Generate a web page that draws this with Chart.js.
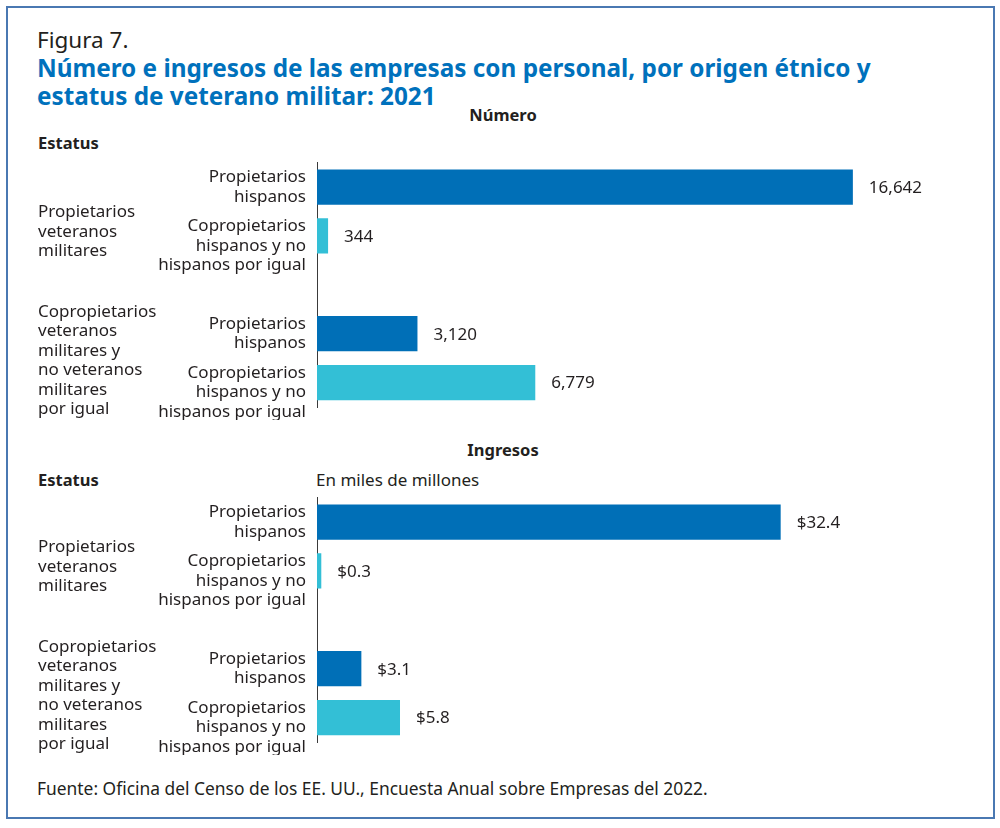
<!DOCTYPE html>
<html>
<head>
<meta charset="utf-8">
<script src="https://cdn.jsdelivr.net/npm/chart.js@4/dist/chart.umd.min.js"></script>
<style>
  body { margin: 0; background: #fff; font-family: "Noto Sans", sans-serif; color: #231f20; }
  #page { position: relative; width: 1000px; height: 828px; overflow: hidden; }
  #frame { position: absolute; left: 6px; top: 6px; width: 985px; height: 809px; border: 2px solid #4a78b2; }
  .txt { position: absolute; white-space: nowrap; }
  canvas { position: absolute; left: 0; }
</style>
</head>
<body>
<div id="page">
  <div id="frame"></div>
  <div class="txt" style="left:37px; top:27px; font-size:22.5px; line-height:26px;">Figura 7.</div>
  <div class="txt" style="left:37px; top:54px; font-size:24.3px; line-height:28px; font-weight:bold; color:#0071bc;">
    Número e ingresos de las empresas con personal, por origen étnico y<br>estatus de veterano militar: 2021
  </div>
  <div class="txt" style="left:403px; width:200px; text-align:center; top:105px; font-size:16.5px; line-height:20px; font-weight:bold;">Número</div>
  <div class="txt" style="left:38px; top:133px; font-size:16.5px; line-height:20px; font-weight:bold;">Estatus</div>

  <canvas id="chartNumero" width="1000" height="270" style="top:150px"></canvas>

  <div class="txt" style="left:403px; width:200px; text-align:center; top:440px; font-size:16.5px; line-height:20px; font-weight:bold;">Ingresos</div>
  <div class="txt" style="left:38px; top:470px; font-size:16.5px; line-height:20px; font-weight:bold;">Estatus</div>
  <div class="txt" style="left:316px; top:470px; font-size:17px; line-height:20px;">En miles de millones</div>

  <canvas id="chartIngresos" width="1000" height="270" style="top:485px"></canvas>

  <div class="txt" style="left:37px; top:778px; font-size:17.4px; line-height:20px;">Fuente: Oficina del Censo de los EE. UU., Encuesta Anual sobre Empresas del 2022.</div>
</div>

<script>
// categories (a blank slot separates the two status groups)
const owners = [
    ["Propietarios", "hispanos"],
    ["", "Copropietarios", "hispanos y no", "hispanos por igual"],
    "",
    ["Propietarios", "hispanos"],
    ["", "Copropietarios", "hispanos y no", "hispanos por igual"]
];

const statusGroups = [
    ["Propietarios", "veteranos", "militares"],
    ["Copropietarios", "veteranos", "militares y", "no veteranos", "militares", "por igual"]
];

// number of firms
const firmCount = [16642, 344, null, 3120, 6779];

// receipts, billions of dollars
const receipts = [32.4, 0.3, null, 3.1, 5.8];

const darkBlue = "#006fb7";
const lightBlue = "#33bfd6";
const barColors = [darkBlue, lightBlue, "rgba(0,0,0,0)", darkBlue, lightBlue];

const labelFont = "17px 'Noto Sans'";
const lineStep = 19.5;

// value at the end of each bar
const valueLabels = {
    id: "valueLabels",
    afterDatasetsDraw(chart, args, opts) {
        const ctx = chart.ctx;
        const meta = chart.getDatasetMeta(0);
        const data = chart.data.datasets[0].data;
        ctx.save();
        ctx.font = labelFont;
        ctx.fillStyle = "#231f20";
        ctx.textAlign = "left";
        ctx.textBaseline = "middle";
        meta.data.forEach((bar, i) => {
            if (data[i] == null) return;
            ctx.fillText(opts.format(data[i]), bar.x + 16, bar.y + 1);
        });
        ctx.restore();
    }
};

// status group labels on the far left
const groupLabels = {
    id: "groupLabels",
    afterDraw(chart) {
        const ctx = chart.ctx;
        const y = chart.scales.y;
        const anchors = [0.92, 3.55];
        ctx.save();
        ctx.font = labelFont;
        ctx.fillStyle = "#231f20";
        ctx.textAlign = "left";
        ctx.textBaseline = "middle";
        statusGroups.forEach((lines, g) => {
            const mid = y.getPixelForValue(anchors[g]);
            const top = mid - (lines.length - 1) * lineStep / 2;
            lines.forEach((line, k) => {
                ctx.fillText(line, 38, top + k * lineStep);
            });
        });
        ctx.restore();
    }
};

function makeChart(id, values, max, format) {

    const ctx = document.getElementById(id);

    return new Chart(ctx, {

        type: 'bar',

        data: {
            labels: owners,
            datasets: [{
                data: values,
                backgroundColor: barColors,
                barPercentage: 0.72,
                categoryPercentage: 1
            }]
        },

        options: {
            indexAxis: 'y',
            responsive: false,
            animation: false,
            layout: {
                padding: { top: 12.6, bottom: 13, left: 0, right: 39 }
            },
            plugins: {
                legend: { display: false },
                tooltip: { enabled: false },
                valueLabels: { format: format }
            },
            scales: {
                x: {
                    display: false,
                    min: 0,
                    max: max
                },
                y: {
                    grid: { display: false, drawTicks: false },
                    border: { display: true, color: "#3a3a3a", width: 1 },
                    ticks: {
                        autoSkip: false,
                        padding: 11,
                        color: "#231f20",
                        font: { family: "Noto Sans", size: 17, lineHeight: lineStep / 17 }
                    },
                    afterFit(scale) {
                        scale.width = 317;
                        scale.paddingTop = 0;
                        scale.paddingBottom = 0;
                    }
                }
            }
        },

        plugins: [valueLabels, groupLabels]

    });

}

makeChart("chartNumero", firmCount, 20000, v => v.toLocaleString("en-US"));
makeChart("chartIngresos", receipts, 45, v => "$" + v.toFixed(1));
</script>
</body>
</html>
